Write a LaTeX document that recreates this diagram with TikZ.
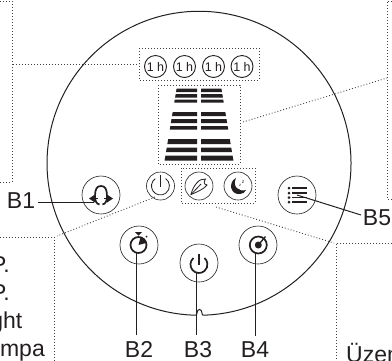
\documentclass[tikz,border=0pt]{standalone}
\usepackage{fontspec}
\setmainfont{Liberation Sans}
\definecolor{ink}{HTML}{231F20}
\tikzset{
  dots/.style={draw=ink!85,line width=0.9pt,dash pattern=on 0.9pt off 2.1pt},
  lead/.style={draw=ink,line width=1pt},
  btn/.style={circle,draw=ink,line width=0.6pt,minimum size=38pt,inner sep=0pt},
  lamp/.style={circle,draw=ink,line width=0.6pt,minimum size=28pt,inner sep=0pt},
  hour/.style={circle,draw=ink,line width=0.9pt,minimum size=22pt,inner sep=0pt,font=\fontsize{12.5}{13}\selectfont,text=ink},
  lab/.style={font=\fontsize{23}{24}\selectfont,text=ink,inner sep=0pt},
  icon/.style={draw=ink,line width=1.7pt},
  thinicon/.style={draw=ink,line width=0.8pt}
}
\newcommand{\barrow}[2]{%
  \fill[ink] ({197-(20.3+(#1-88)*0.167)},#1) -- (197,#1) -- (197,#2) -- ({197-(20.3+(#2-88)*0.167)},#2) -- cycle;
  \fill[ink] ({201+(20.3+(#1-88)*0.167)},#1) -- (201,#1) -- (201,#2) -- ({201+(20.3+(#2-88)*0.167)},#2) -- cycle;}
\begin{document}
\begin{tikzpicture}[x=1pt,y=-1pt]
\useasboundingbox (0,0) rectangle (392,360);
\clip (0,0) rectangle (392,360);
% outer body with notch
\draw[ink,line width=1pt] (196,315.2) .. controls (197.5,315) and (196.5,309.5) .. (199.5,309.5)
  .. controls (202.5,309.5) and (201.5,315) .. (203,315.2)
  arc[start angle=-88.5,end angle=268.87,radius=152pt];
% dotted frames
\draw[dots] (139,48) rectangle (259,80);
\draw[dots] (158,85) rectangle (240,164);
\draw[dots] (181,168) rectangle (255,203.5);
\draw[dots] (0,1) -- (12,1) -- (12,182) -- (0,182);
\draw[dots] (392,1) -- (387,1) -- (387,199) -- (392,199);
\draw[dots] (0,237) -- (54.5,237) -- (54.5,360);
\draw[dots] (392,243) -- (336,243) -- (336,360);
% dotted leaders
\coordinate (hourFrame) at (139,64.5);
\coordinate (leftEdge) at (13,64.5);
\coordinate (barsFrame) at (243,122);
\coordinate (rightEdge) at (387,78);
\coordinate (lampLow) at (155,197);
\coordinate (leftCorner) at (57,236);
\coordinate (modeLow) at (216,207);
\coordinate (rightCorner) at (334,243);
\draw[dots] (leftEdge) -- (hourFrame);
\draw[dots] (barsFrame) -- (rightEdge);
\draw[dots] (lampLow) -- (leftCorner);
\draw[dots] (modeLow) -- (rightCorner);
% hour lamps
\node[hour] (h1) at (155.5,66.5) {1 h};
\node[hour] (h2) at (184.5,66.5) {1 h};
\node[hour] (h3) at (213.5,66.5) {1 h};
\node[hour] (h4) at (242,66.5) {1 h};
% bars
\barrow{88.5}{92}\barrow{94}{97.5}\barrow{99.5}{102.5}
\barrow{112}{116}\barrow{119}{123}\barrow{126}{129.5}
\barrow{139}{144}\barrow{147.5}{152}\barrow{155.5}{160.5}
% small lamps
\node[lamp] (pwr) at (160.5,186) {};
\node[lamp] (eco) at (199,186) {};
\node[lamp] (moon) at (238,186) {};
\draw[thinicon] (160.5,175) -- (160.5,187);
\draw[thinicon] (155.3,178.6) arc[start angle=125,end angle=415,radius=9pt];
% buttons
\node[btn] (b1) at (101,195) {};
\node[btn] (b2) at (139,245) {};
\node[btn] (b3) at (199,263) {};
\node[btn] (b4) at (258,245) {};
\node[btn] (b5) at (297,195) {};
% labels
\node[lab,anchor=base] (lb1) at (21,208.5) {B1};
\node[lab,anchor=base] (lb2) at (139,357) {B2};
\node[lab,anchor=base] (lb3) at (198,357) {B3};
\node[lab,anchor=base] (lb4) at (255,357) {B4};
\node[lab,anchor=base] (lb5) at (377,225) {B5};
\node[lab,anchor=base east] (t1) at (10,272) {P.};
\node[lab,anchor=base east] (t2) at (10,300) {P.};
\node[lab,anchor=base east] (t3) at (22.5,328) {ght};
\node[lab,anchor=base east] (t4) at (45,356) {mpa};
\node[lab,anchor=base west] (t5) at (346,362) {Üzem};
% B1 icon
\draw[icon] (99.5,204.5) .. controls (96,204) and (95,200) .. (95,196) .. controls (95,189) and (97,186) .. (101,186)
  .. controls (105,186) and (107,189) .. (107,196) .. controls (107,200) and (106,204) .. (102.5,204.5);
\fill[ink] (89,198.5) -- (95,194.5) -- (95,202.5) -- cycle;
\fill[ink] (113,198.5) -- (107,194.5) -- (107,202.5) -- cycle;
\draw[ink,line width=1.4pt] (94,198.5) -- (98,198.5) (104,198.5) -- (108,198.5);
% B2 icon
\draw[icon] (138.5,245) circle[radius=8pt];
\fill[ink] (138.5,245) -- (140.5,237.3) arc[start angle=75,end angle=15,radius=8pt] -- cycle;
\fill[ink] (135,232) -- (142,232) -- (138.5,235.5) -- cycle;
\fill[ink] (146.5,236.5) circle[radius=1pt];
% B3 icon
\draw[icon] (193.5,258) arc[start angle=130,end angle=410,radius=8.5pt];
\draw[icon] (199,254) -- (199,265);
% B4 icon
\draw[icon] (258.3,245) circle[radius=8.5pt];
\fill[ink] (258.3,245) circle[radius=3.5pt];
\draw[ink,line width=1.3pt] (258.3,245) -- (265.5,236.5);
% B5 icon
\foreach \yy in {188,193,197.5,202}{
  \fill[ink] (289,\yy) circle[radius=1.5pt];
  \draw[ink,line width=1.7pt] (292,\yy) -- (307,\yy);
}
% feather icon
\draw[thinicon] (191,194.5) .. controls (193,186) and (199,178) .. (205.5,179) .. controls (204,182) and (203,184) .. (207,185) .. controls (204,189) and (197,192) .. (191,194.5) -- cycle;
\draw[thinicon] (191,194.5) -- (201,184);
% moon icon
\fill[ink] (236,178) .. controls (228,182) and (230,195) .. (240,194) .. controls (243,194) and (245,192) .. (246,190)
 .. controls (239,192) and (232,187) .. (236,178) -- cycle;
\node[font=\fontsize{5}{5}\selectfont,text=ink,inner sep=0pt] (zz) at (243,182) {z};
\node[font=\fontsize{4}{4}\selectfont,text=ink,inner sep=0pt] (zy) at (240,185) {z};
% connectors
\coordinate (tipb1) at (94,202);
\coordinate (tipb2) at (136.5,253);
\coordinate (tipb3) at (196,272);
\coordinate (tipb4) at (255.5,252);
\coordinate (tipb5) at (297,195);
\draw[lead] (38,202) -- (tipb1);
\draw[lead] (tipb2) -- (136.5,335);
\draw[lead] (tipb3) -- (196,335);
\draw[lead] (tipb4) -- (255.5,336);
\draw[lead] (tipb5) -- (361,215);
\end{tikzpicture}
\end{document}
